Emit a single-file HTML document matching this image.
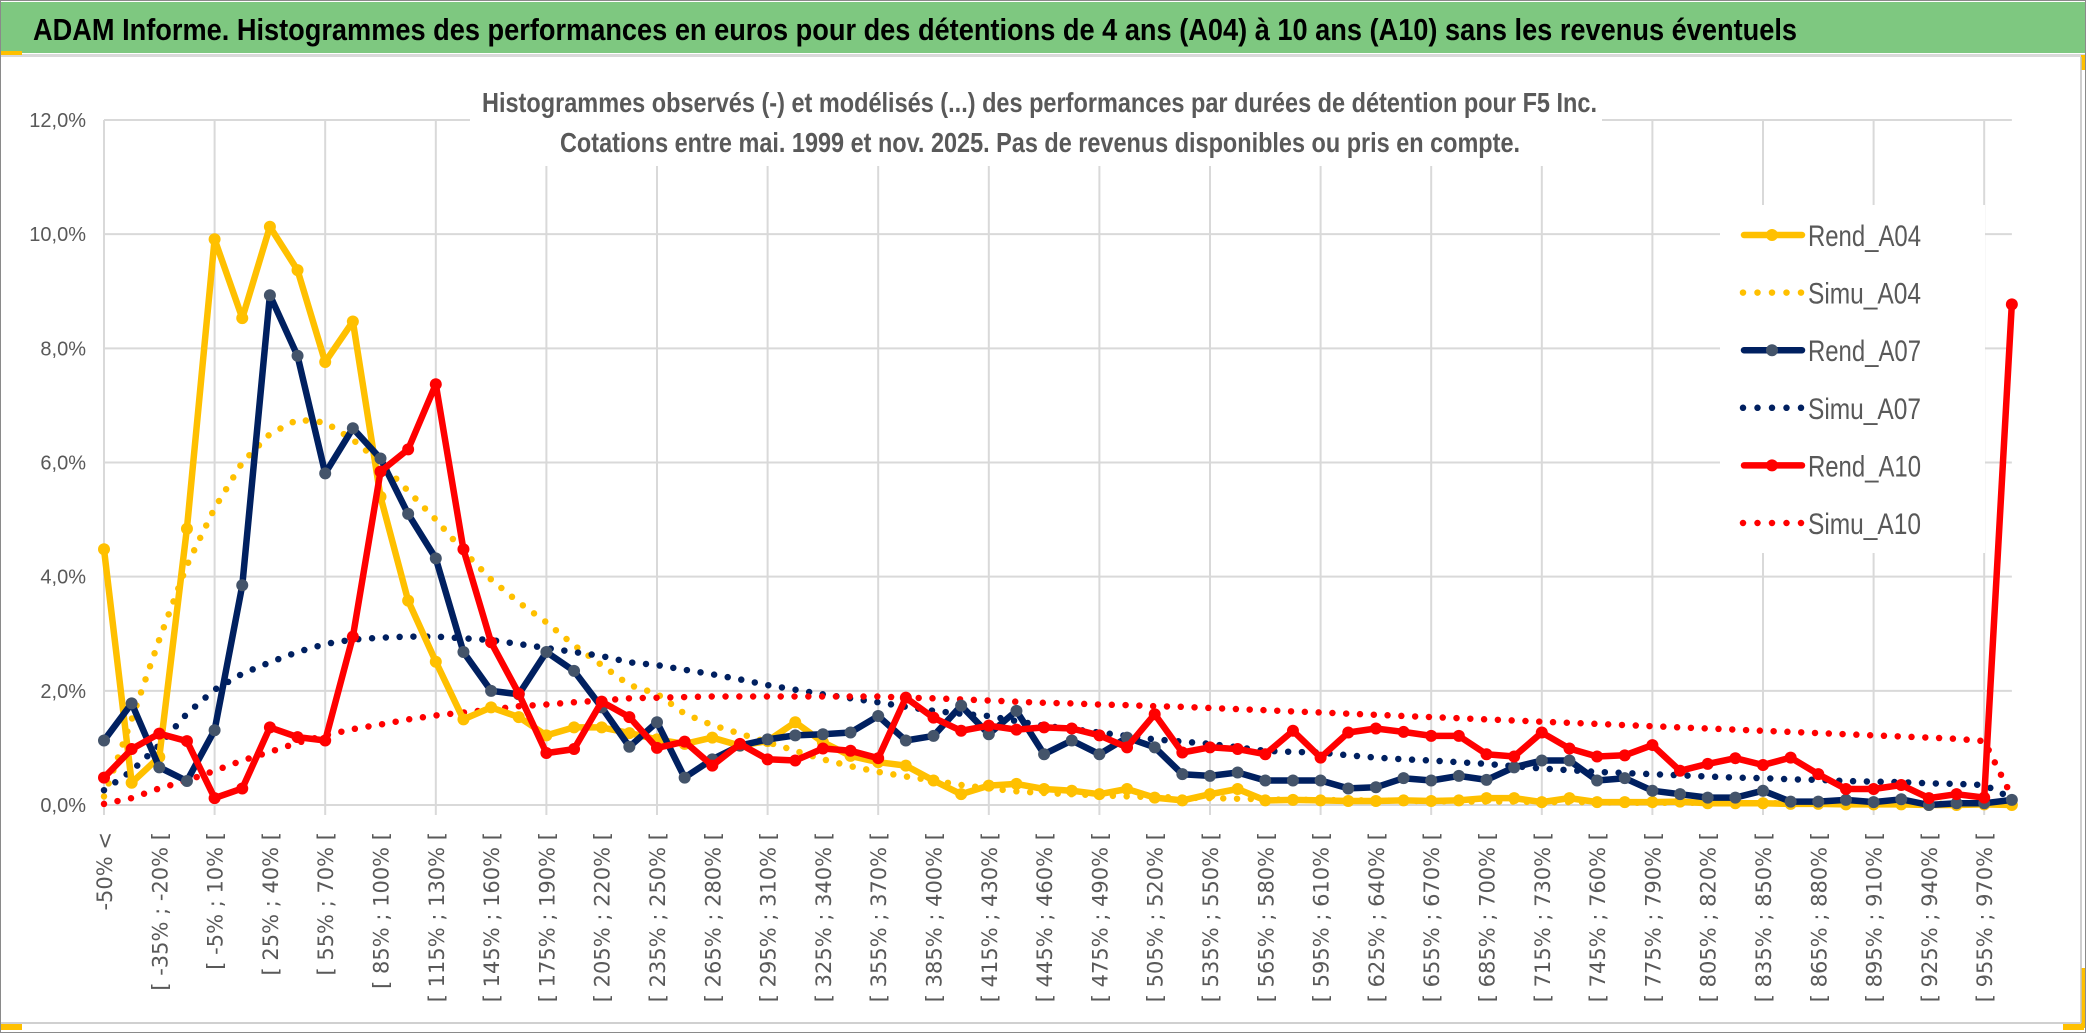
<!DOCTYPE html>
<html><head><meta charset="utf-8"><style>
html,body{margin:0;padding:0;background:#fff;}
svg{display:block;}
</style></head><body>
<svg id="chart" width="2086" height="1033" viewBox="0 0 2086 1033" xmlns="http://www.w3.org/2000/svg">
<rect x="0" y="0" width="2086" height="1033" fill="#fff"/>
<rect x="0.5" y="0.5" width="2085" height="1032" fill="none" stroke="#8a8a8a" stroke-width="1"/>
<rect x="1" y="2" width="2084" height="51" fill="#7ec880"/>
<rect x="1" y="54" width="2084" height="3" fill="#d9d9d9"/>
<rect x="1" y="51" width="21" height="4" fill="#ffc000"/>
<rect x="2081" y="55" width="4" height="15" fill="#ffc000"/>
<rect x="1" y="1024" width="21" height="6" fill="#ffc000"/>
<rect x="2063" y="1024" width="21" height="6" fill="#ffc000"/>
<rect x="2081" y="968" width="4" height="60" fill="#ffc000"/>
<line x1="2081" y1="57" x2="2081" y2="1023" stroke="#bfbfbf" stroke-width="1.5"/>
<line x1="1" y1="1023" x2="2081" y2="1023" stroke="#d0d0d0" stroke-width="2"/>
<text x="33" y="40" font-family="'Liberation Sans Narrow','Liberation Sans',sans-serif" font-weight="bold" font-size="31" fill="#000" textLength="1764" lengthAdjust="spacingAndGlyphs">ADAM Informe. Histogrammes des performances en euros pour des détentions de 4 ans (A04) à 10 ans (A10) sans les revenus éventuels</text>
<g id="grid"></g>
<g id="yaxis"></g>
<g id="xaxis"></g>
<rect x="470" y="62" width="1132" height="104" fill="#fff"/>
<text x="482" y="112" font-family="'Liberation Sans Narrow','Liberation Sans',sans-serif" font-weight="bold" font-size="28" fill="#595959" textLength="1115" lengthAdjust="spacingAndGlyphs">Histogrammes observés (-) et modélisés (...) des performances par durées de détention pour F5 Inc.</text>
<text x="560" y="152" font-family="'Liberation Sans Narrow','Liberation Sans',sans-serif" font-weight="bold" font-size="28" fill="#595959" textLength="960" lengthAdjust="spacingAndGlyphs">Cotations entre mai. 1999 et nov. 2025. Pas de revenus disponibles ou pris en compte.</text>
<rect x="1720" y="205" width="265" height="348" fill="#fff"/>
<g id="series"></g>
<g id="legend"></g>
</svg>
<script>
const rendA04 = [4.48,0.39,0.84,4.84,9.91,8.53,10.13,9.37,7.76,8.47,5.4,3.58,2.51,1.5,1.71,1.54,1.22,1.36,1.36,1.26,
1.15,1.07,1.18,1.04,1.12,1.45,1.1,0.86,0.75,0.69,0.43,0.19,0.34,0.37,0.28,0.25,0.19,0.28,0.13,0.08,0.19,0.28,0.08,0.09,0.08,
0.07,0.07,0.08,0.07,0.08,0.12,0.12,0.05,0.12,0.05,0.05,0.05,0.06,0.03,0.03,0.03,0.02,0.02,0.01,0.01,0.01,0,0,0.01,0];
const simuA04 = [0.15,1.5,2.9,4.2,5.2,6.0,6.5,6.75,6.7,6.4,6.0,5.5,5.0,4.45,3.95,3.55,3.2,2.8,2.45,2.1,
1.95,1.6,1.4,1.25,1.1,0.95,0.8,0.68,0.58,0.5,0.43,0.35,0.29,0.24,0.21,0.19,0.17,0.15,0.14,0.13,0.12,0.11,0.1,0.09,0.09,
0.08,0.08,0.07,0.07,0.06,0.06,0.06,0.05,0.05,0.05,0.04,0.04,0.04,0.04,0.03,0.03,0.03,0.03,0.03,0.02,0.02,0.02,0.02,0.02,0.02];
const rendA07 = [1.13,1.78,0.66,0.42,1.31,3.85,8.93,7.87,5.81,6.6,6.07,5.1,4.32,2.68,2.0,1.94,2.68,2.35,1.71,1.02,
1.45,0.48,0.8,1.04,1.15,1.22,1.24,1.27,1.56,1.13,1.21,1.74,1.24,1.65,0.89,1.13,0.89,1.18,1.01,0.54,0.51,0.57,0.43,0.43,0.43,
0.29,0.31,0.47,0.43,0.51,0.44,0.66,0.78,0.78,0.43,0.47,0.25,0.19,0.13,0.13,0.25,0.06,0.06,0.09,0.05,0.1,0,0.03,0.03,0.09];
const simuA07 = [0.26,0.6,1.05,1.6,2.02,2.3,2.5,2.68,2.82,2.9,2.93,2.95,2.95,2.92,2.89,2.82,2.75,2.68,2.61,2.5,
2.45,2.37,2.29,2.2,2.1,2.02,1.94,1.87,1.8,1.72,1.65,1.6,1.56,1.47,1.39,1.33,1.27,1.21,1.15,1.11,1.07,1.01,0.95,0.93,0.92,
0.87,0.83,0.8,0.78,0.75,0.72,0.68,0.64,0.61,0.58,0.56,0.54,0.52,0.5,0.48,0.47,0.45,0.44,0.42,0.41,0.4,0.38,0.37,0.35,0.12];
const rendA10 = [0.48,0.98,1.25,1.12,0.12,0.29,1.36,1.19,1.13,2.95,5.84,6.23,7.37,4.48,2.85,1.95,0.91,0.98,1.81,1.54,
1.0,1.11,0.69,1.07,0.8,0.78,0.99,0.95,0.82,1.88,1.53,1.3,1.39,1.32,1.36,1.34,1.22,1.01,1.59,0.92,1.01,0.98,0.89,1.3,0.83,
1.27,1.34,1.28,1.21,1.21,0.89,0.85,1.27,0.99,0.85,0.87,1.05,0.6,0.72,0.82,0.7,0.83,0.54,0.28,0.28,0.35,0.12,0.19,0.13,8.77];
const simuA10 = [0.02,0.12,0.29,0.43,0.6,0.78,0.93,1.09,1.22,1.33,1.41,1.5,1.57,1.62,1.67,1.73,1.76,1.8,1.83,1.87,
1.88,1.89,1.9,1.9,1.9,1.9,1.9,1.9,1.9,1.88,1.87,1.85,1.83,1.81,1.79,1.78,1.76,1.75,1.73,1.72,1.7,1.68,1.66,1.64,1.62,
1.6,1.58,1.56,1.54,1.52,1.5,1.48,1.46,1.44,1.42,1.4,1.38,1.36,1.34,1.32,1.3,1.28,1.26,1.24,1.22,1.2,1.18,1.16,1.12,0.15];
const yTicks = [0,2,4,6,8,10,12];
const yTickLabels = ["0,0%","2,0%","4,0%","6,0%","8,0%","10,0%","12,0%"];
const catCount = 70;

const NS = "http://www.w3.org/2000/svg";
const X0 = 104, DX = 27.65, Y0 = 805, YMAX = 12, YTOP = 120;
function xs(i){ return X0 + i*DX; }
function ys(v){ return Y0 - v*(Y0-YTOP)/YMAX; }
function mk(tag, attrs, parent){ const e=document.createElementNS(NS,tag); for(const k in attrs) e.setAttribute(k,attrs[k]); parent.appendChild(e); return e; }

const grid = document.getElementById('grid');
const xEnd = xs(catCount-1);
yTicks.forEach((t)=>{
  const l = mk('line',{x1:X0,x2:xEnd,y1:ys(t),y2:ys(t),stroke:'#d9d9d9','stroke-width':2},grid);
  
  
});
for(let i=0;i<catCount;i+=4){
  const l = mk('line',{x1:xs(i),x2:xs(i),y1:YTOP,y2:Y0+10,stroke:'#d9d9d9','stroke-width':2},grid);
  
  
}
const yaxis = document.getElementById('yaxis');
yTicks.forEach((t,k)=>{
  const tx = mk('text',{x:86,y:ys(t)+7,'text-anchor':'end','font-family':"'Liberation Sans Narrow','Liberation Sans',sans-serif",'font-size':20,fill:'#595959'},yaxis);
  tx.textContent = yTickLabels[k];
  
  
});
function catLabel(i){
  if(i===0) return "-50% <";
  const a = -50 + 15*(i-1);
  return "[ " + a + "% ; " + (a+15) + "% [";
}
const xaxis = document.getElementById('xaxis');
for(let i=0;i<catCount;i+=2){
  const px = xs(i)+8, py = 832;
  const tx = mk('text',{x:px,y:py,'text-anchor':'end',transform:`rotate(-90 ${px} ${py})`,'font-family':"'DejaVu Sans',sans-serif",'font-size':21,fill:'#595959'},xaxis);
  tx.textContent = catLabel(i);
  
  
}

const series = document.getElementById('series');
function pts(arr){ return arr.map((v,i)=>xs(i).toFixed(1)+','+ys(v).toFixed(1)).join(' '); }
function simu(arr,color,name){
  const p = mk('polyline',{points:pts(arr),fill:'none',stroke:color,'stroke-width':6.5,'stroke-linecap':'round','stroke-dasharray':'0 13.8'},series);
  
  
}
function rend(arr,color,mcolor,name){
  const p = mk('polyline',{points:pts(arr),fill:'none',stroke:color,'stroke-width':6.5,'stroke-linejoin':'round'},series);
  
  
  arr.forEach((v,i)=>{
    const c = mk('circle',{cx:xs(i),cy:ys(v),r:6,fill:mcolor},series);
    
    
  });
}
simu(simuA04,'#ffc000','simu-a04-line');
simu(simuA07,'#002060','simu-a07-line');
simu(simuA10,'#ff0000','simu-a10-line');
rend(rendA04,'#ffc000','#ffc000','rend-a04-line');
rend(rendA07,'#002060','#44546a','rend-a07-line');
rend(rendA10,'#ff0000','#ff0000','rend-a10-line');

const legend = document.getElementById('legend');
const legItems = [
  ['Rend_A04','#ffc000','#ffc000',false],
  ['Simu_A04','#ffc000',null,true],
  ['Rend_A07','#002060','#44546a',false],
  ['Simu_A07','#002060',null,true],
  ['Rend_A10','#ff0000','#ff0000',false],
  ['Simu_A10','#ff0000',null,true]
];
legItems.forEach((it,k)=>{
  const cy = 235 + k*57.6;
  const g = mk('g',{},legend);
  
  
  if(it[3]){
    mk('line',{x1:1743,x2:1802,y1:cy,y2:cy,stroke:it[1],'stroke-width':6.5,'stroke-linecap':'round','stroke-dasharray':'0 14.5'},g);
  } else {
    mk('line',{x1:1744,x2:1802,y1:cy,y2:cy,stroke:it[1],'stroke-width':6.5,'stroke-linecap':'round'},g);
    mk('circle',{cx:1772,cy:cy,r:6,fill:it[2]},g);
  }
  const tx = mk('text',{x:1808,y:cy+11,'font-family':"'Liberation Sans Narrow','Liberation Sans',sans-serif",'font-size':30,fill:'#595959',textLength:113,lengthAdjust:'spacingAndGlyphs'},g);
  tx.textContent = it[0];
});
</script>
</body></html>
